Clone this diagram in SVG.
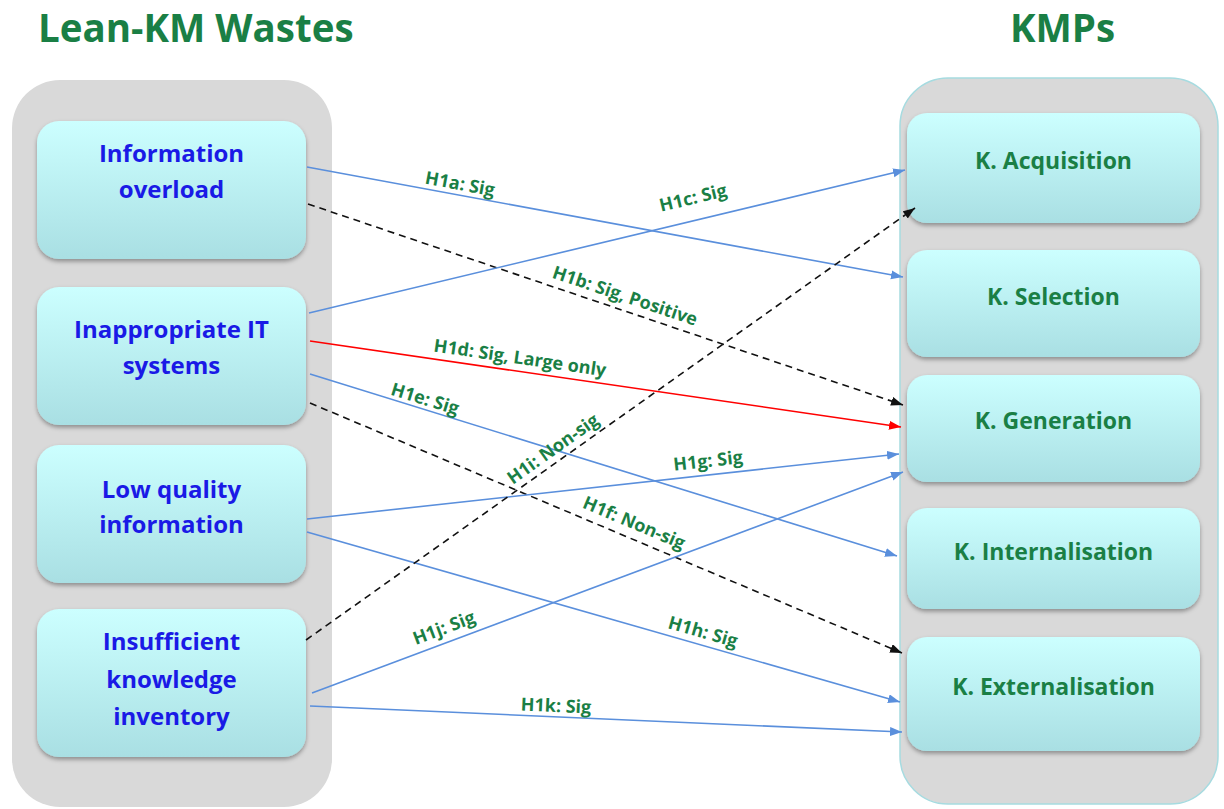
<svg xmlns="http://www.w3.org/2000/svg" width="1224" height="809" viewBox="0 0 1224 809">
<style>
.title{font-family:"Open Sans",Lato,"Liberation Sans",sans-serif;font-weight:700;font-size:38.5px;fill:#1a7f45}
.ltxt{font-family:"Open Sans",Lato,"Liberation Sans",sans-serif;font-weight:700;font-size:24px;fill:#1a1ae6;text-anchor:middle}
.rtxt{font-family:"Open Sans",Lato,"Liberation Sans",sans-serif;font-weight:700;font-size:23px;fill:#1a7f45;text-anchor:middle}
.lbl{font-family:"Open Sans",Lato,"Liberation Sans",sans-serif;font-weight:700;font-size:18px;fill:#1a7f45;text-anchor:middle}
.cont{fill:#d9d9d9}
.box{fill:url(#bg);filter:url(#sh)}
.blue{stroke:#5a8fdc;stroke-width:1.6;fill:none;marker-end:url(#ab)}
.red{stroke:#ff0000;stroke-width:1.6;fill:none;marker-end:url(#ar)}
.dash{stroke:#111;stroke-width:1.6;fill:none;stroke-dasharray:7 5;marker-end:url(#ak)}
</style>
<defs>
<linearGradient id="bg" x1="0" y1="0" x2="0" y2="1">
<stop offset="0" stop-color="#ccffff"/>
<stop offset="1" stop-color="#a9dfe3"/>
</linearGradient>
<filter id="sh" x="-10%" y="-10%" width="120%" height="130%">
<feDropShadow dx="0" dy="2.5" stdDeviation="2" flood-color="#000" flood-opacity="0.35"/>
</filter>
<marker id="ab" markerUnits="userSpaceOnUse" markerWidth="13" markerHeight="10" refX="12" refY="4.5" orient="auto"><path d="M0,0 L12,4.5 L0,9 z" fill="#5a8fdc"/></marker>
<marker id="ar" markerUnits="userSpaceOnUse" markerWidth="13" markerHeight="10" refX="12" refY="4.5" orient="auto"><path d="M0,0 L12,4.5 L0,9 z" fill="#ff0000"/></marker>
<marker id="ak" markerUnits="userSpaceOnUse" markerWidth="13" markerHeight="10" refX="12" refY="4.5" orient="auto"><path d="M0,0 L12,4.5 L0,9 z" fill="#111"/></marker>
</defs>
<rect width="1224" height="809" fill="#fff"/>
<text class="title" x="38" y="42">Lean-KM Wastes</text>
<text class="title" x="1010" y="42">KMPs</text>
<rect id="left-container" class="cont" x="12" y="80" width="320" height="727" rx="48"/>
<rect id="right-container" class="cont" x="900" y="78" width="318" height="726" rx="48" stroke="#a6dbe0" stroke-width="1.5"/>
<g id="w1"><rect class="box" x="37" y="121" width="269" height="138" rx="22"/><text class="ltxt" x="171.5" y="162">Information</text><text class="ltxt" x="171.5" y="198">overload</text></g>
<g id="w2"><rect class="box" x="37" y="287" width="269" height="138" rx="22"/><text class="ltxt" x="171.5" y="338">Inappropriate IT</text><text class="ltxt" x="171.5" y="374">systems</text></g>
<g id="w3"><rect class="box" x="37" y="445" width="269" height="138" rx="22"/><text class="ltxt" x="171.5" y="498">Low quality</text><text class="ltxt" x="171.5" y="533">information</text></g>
<g id="w4"><rect class="box" x="37" y="609" width="269" height="148" rx="22"/><text class="ltxt" x="171.5" y="650">Insufficient</text><text class="ltxt" x="171.5" y="688">knowledge</text><text class="ltxt" x="171.5" y="725">inventory</text></g>
<g id="k1"><rect class="box" x="907" y="113" width="293" height="110" rx="20"/><text class="rtxt" x="1053.5" y="169">K. Acquisition</text></g>
<g id="k2"><rect class="box" x="907" y="250" width="293" height="107" rx="20"/><text class="rtxt" x="1053.5" y="305">K. Selection</text></g>
<g id="k3"><rect class="box" x="907" y="375" width="293" height="107" rx="20"/><text class="rtxt" x="1053.5" y="429">K. Generation</text></g>
<g id="k4"><rect class="box" x="907" y="508" width="293" height="101" rx="20"/><text class="rtxt" x="1053.5" y="560">K. Internalisation</text></g>
<g id="k5"><rect class="box" x="907" y="637" width="293" height="114" rx="20"/><text class="rtxt" x="1053.5" y="695">K. Externalisation</text></g>
<g id="connectors">
<path class="blue" d="M307,167 L903,277"/>
<path class="dash" d="M308,204 L903,405"/>
<path class="blue" d="M309,313 L905,170"/>
<path class="red" d="M310,341 L901,427"/>
<path class="blue" d="M310,374 L897,556"/>
<path class="dash" d="M310,403 L902,653"/>
<path class="blue" d="M307,519 L899,454"/>
<path class="blue" d="M307,532 L900,702"/>
<path class="dash" d="M306,640 L915,208"/>
<path class="blue" d="M312,693 L903,472"/>
<path class="blue" d="M310,706 L902,732"/>
<g id="labels">
<text class="lbl" transform="translate(460,184) rotate(10.46)" y="6">H1a: Sig</text>
<text class="lbl" transform="translate(625,296) rotate(18.67)" y="6">H1b: Sig, Positive</text>
<text class="lbl" transform="translate(693,198) rotate(-13.49)" y="6">H1c: Sig</text>
<text class="lbl" transform="translate(520,358) rotate(8.28)" y="6">H1d: Sig, Large only</text>
<text class="lbl" transform="translate(425,399) rotate(17.14)" y="6">H1e: Sig</text>
<text class="lbl" transform="translate(634,523) rotate(22.9)" y="6">H1f: Non-sig</text>
<text class="lbl" transform="translate(708,461) rotate(-6.27)" y="6">H1g: Sig</text>
<text class="lbl" transform="translate(703,632) rotate(16.0)" y="6">H1h: Sig</text>
<text class="lbl" transform="translate(553,449) rotate(-35.35)" y="6">H1i: Non-sig</text>
<text class="lbl" transform="translate(444,628) rotate(-20.5)" y="6">H1j: Sig</text>
<text class="lbl" transform="translate(556,706) rotate(2.51)" y="6">H1k: Sig</text>
</g>
</g>
</svg>
